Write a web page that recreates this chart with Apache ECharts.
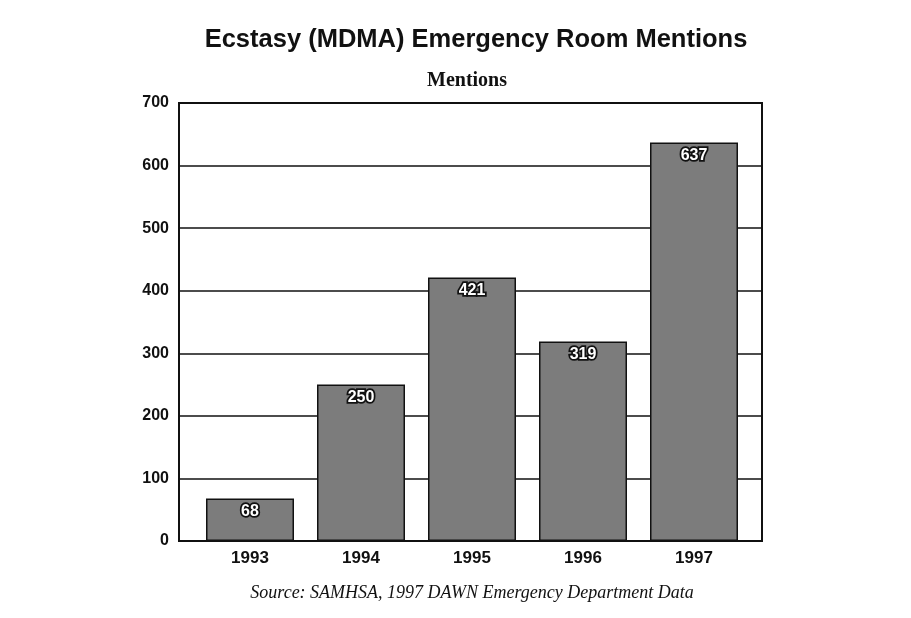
<!DOCTYPE html>
<html>
<head>
<meta charset="utf-8">
<style>
  html, body { margin: 0; padding: 0; background: #ffffff; }
  #chart { width: 911px; height: 618px; }
</style>
<script src="https://cdn.jsdelivr.net/npm/echarts@6/dist/echarts.min.js"></script>
</head>
<body>
<div id="chart"></div>
<script>
// Ecstasy (MDMA) emergency room mentions by year
const years = ['1993', '1994', '1995', '1996', '1997'];
const mentions = [68, 250, 421, 319, 637];
const yTicks = { min: 0, max: 700, interval: 100 };

const titleText = 'Ecstasy (MDMA) Emergency Room Mentions';
const axisTitle = 'Mentions';
const sourceText = 'Source: SAMHSA, 1997 DAWN Emergency Department Data';

const chart = echarts.init(document.getElementById('chart'), null, { renderer: 'canvas' });

const option = {
  backgroundColor: '#ffffff',
  animation: false,
  grid: [
    // framed plot area with the horizontal rules
    { left: 179, right: 149, top: 103, bottom: 77, show: true, borderColor: '#111', borderWidth: 2, backgroundColor: 'transparent' },
    // band used to lay out the bars
    { left: 194.5, right: 161.5, top: 103, bottom: 77 }
  ],
  xAxis: [
    { gridIndex: 0, type: 'category', data: years, show: false },
    {
      gridIndex: 1, type: 'category', data: years,
      axisLine: { show: false }, axisTick: { show: false },
      axisLabel: { color: '#111', fontFamily: 'Liberation Sans', fontWeight: 'bold', fontSize: 17, margin: 9 }
    }
  ],
  yAxis: [
    {
      gridIndex: 0, type: 'value', min: yTicks.min, max: yTicks.max, interval: yTicks.interval,
      axisLine: { show: false }, axisTick: { show: false },
      splitLine: { show: true, lineStyle: { color: '#111', width: 1.5 } },
      axisLabel: { color: '#111', fontFamily: 'Liberation Sans', fontWeight: 'bold', fontSize: 16, margin: 10 }
    },
    {
      gridIndex: 1, type: 'value', min: yTicks.min, max: yTicks.max, interval: yTicks.interval,
      show: false, splitLine: { show: false }
    }
  ],
  series: [
    {
      type: 'bar',
      xAxisIndex: 1, yAxisIndex: 1,
      data: mentions,
      barWidth: 88,
      itemStyle: { color: '#7c7c7c', borderColor: '#111', borderWidth: 1.5 },
      label: {
        show: true, position: 'insideTop', distance: 5,
        color: '#ffffff', fontFamily: 'Liberation Sans', fontWeight: 'bold', fontSize: 16,
        textBorderColor: '#111', textBorderWidth: 3.5
      },
      z: 3
    }
  ],
  graphic: [
    {
      type: 'text', x: 476, y: 27,
      style: { text: titleText, textAlign: 'center', fill: '#111', fontFamily: 'Liberation Sans', fontWeight: 'bold', fontSize: 25.5 }
    },
    {
      type: 'text', x: 467, y: 71,
      style: { text: axisTitle, textAlign: 'center', fill: '#111', fontFamily: 'Liberation Serif', fontWeight: 'bold', fontSize: 20 }
    },
    {
      type: 'text', x: 472, y: 584,
      style: { text: sourceText, textAlign: 'center', fill: '#111', fontFamily: 'Liberation Serif', fontStyle: 'italic', fontSize: 18 }
    }
  ]
};

chart.setOption(option);
</script>
</body>
</html>
